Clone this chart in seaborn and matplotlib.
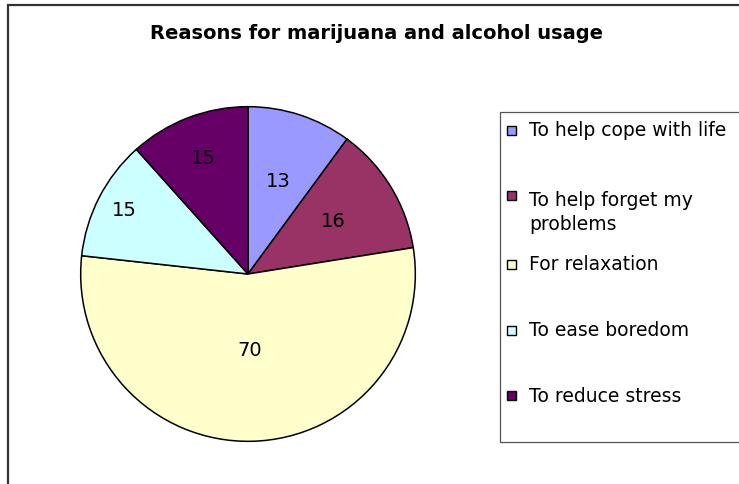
import matplotlib
matplotlib.use("Agg")
import matplotlib.pyplot as plt
from matplotlib.patches import Rectangle
import numpy as np
import seaborn as sns

# data
reasons = ["To help cope with life", "To help forget my\nproblems", "For relaxation",
           "To ease boredom", "To reduce stress"]
counts = [13, 16, 70, 15, 15]
colors = ["#9999FF", "#993366", "#FFFFCC", "#CCFFFF", "#660066"]
title = "Reasons for marijuana and alcohol usage"

# radial position of each value label (fraction of radius), like the Excel layout
label_r = [0.58, 0.60, 0.46, 0.83, 0.74]

sns.set_style("white")
plt.rcParams["font.family"] = ["DejaVu Sans"]
plt.rcParams["text.color"] = "black"

W, H = 739, 484
fig = plt.figure(figsize=(W / 100, H / 100), dpi=100)


def px(x, y):
    return x / W, 1 - y / H


# pie axes, centre at (248, 274) px, radius 169 px
cx, cy, r = 248, 274, 169
ax = fig.add_axes([(cx - r) / W, (H - cy - r) / H, 2 * r / W, 2 * r / H])
total = sum(counts)
wedges, texts, autotexts = ax.pie(
    counts, colors=colors, startangle=90, counterclock=False,
    autopct=lambda p: f"{round(p * total / 100)}", pctdistance=0.6,
    wedgeprops=dict(edgecolor="black", linewidth=1.1),
    textprops=dict(fontsize=14, color="black"))
for w, t, rr in zip(wedges, autotexts, label_r):
    th = np.deg2rad((w.theta1 + w.theta2) / 2)
    t.set_position((rr * np.cos(th), rr * np.sin(th)))
ax.set_xlim(-1.01, 1.01)
ax.set_ylim(-1.01, 1.01)
ax.set_aspect("equal")
ax.axis("off")

# title
tx, ty = px(377, 39)
fig.text(tx, ty, title, ha="center", va="baseline", fontsize=14, fontweight="bold",
         color="black")

# outer chart frame (runs off the right and bottom edges)
x0, y0 = px(8, 5)
fig.add_artist(Rectangle((x0, -0.1), 1.2, y0 + 0.1, transform=fig.transFigure,
                         fill=False, edgecolor="#333333", linewidth=1.6))

# legend box
lx, ltop = px(500, 112)
_, lbot = px(500, 442)
fig.add_artist(Rectangle((lx, lbot), 0.5, ltop - lbot, transform=fig.transFigure,
                         fill=False, edgecolor="#555555", linewidth=0.9))

entry_y = [130, 195, 264, 330, 395]
line_gap = 28
for lab, col, yc in zip(reasons, colors, entry_y):
    sx, sy = px(507, yc + 4.5)
    fig.add_artist(Rectangle((sx, sy), 9 / W, 9 / H, transform=fig.transFigure,
                             facecolor=col, edgecolor="black", linewidth=1))
    nl = lab.count("\n")
    tx, ty = px(529, yc + 6.5 + nl * line_gap)
    fig.text(tx, ty, lab, ha="left", va="baseline", fontsize=13.5, linespacing=1.28,
             color="black")

fig.savefig("out.png", dpi=100)
